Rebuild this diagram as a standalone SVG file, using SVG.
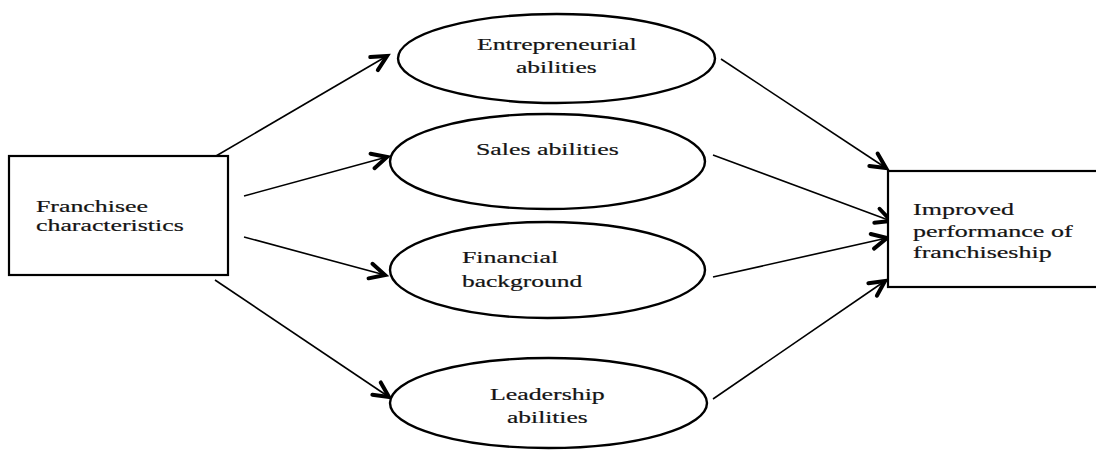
<svg xmlns="http://www.w3.org/2000/svg" width="1096" height="452" viewBox="0 0 1096 452">
  <style>
    .box { fill: #fff; stroke: #000; stroke-width: 2.2; }
    .oval { fill: #fff; stroke: #000; stroke-width: 2.4; }
    .lbl { font-family: "Liberation Serif", "Times New Roman", serif; font-size: 17px; fill: #141414; stroke: #141414; stroke-width: 0.2; }
    .link { stroke: #000; stroke-width: 1.6; fill: none; marker-end: url(#chev); }
  </style>
  <defs>
    <marker id="chev" markerUnits="userSpaceOnUse" markerWidth="30" markerHeight="30" viewBox="-20 -15 30 30" refX="0" refY="0" orient="auto">
      <path d="M-15,-7.5 L0,0 L-15,7.5" fill="none" stroke="#000" stroke-width="4" stroke-linecap="round" stroke-linejoin="miter"/>
    </marker>
  </defs>
  <rect width="1096" height="452" fill="#fff"/>

  <g id="connectors">
    <line class="link" x1="216" y1="156" x2="387" y2="56"/>
    <line class="link" x1="244" y1="196" x2="387" y2="157"/>
    <line class="link" x1="244" y1="237" x2="385" y2="275"/>
    <line class="link" x1="215" y1="280" x2="389" y2="397"/>
    <line class="link" x1="721" y1="59" x2="886" y2="168"/>
    <line class="link" x1="713" y1="155" x2="891" y2="221"/>
    <line class="link" x1="713" y1="277" x2="887" y2="238"/>
    <line class="link" x1="713" y1="399" x2="885" y2="281"/>
  </g>

  <!-- labels are set in a wide face: each line is scaled horizontally -->
  <g id="franchisee">
    <rect class="box" x="9" y="156" width="219" height="119"/>
    <text class="lbl" transform="translate(36 212) scale(1.52 1)">Franchisee</text>
    <text class="lbl" transform="translate(36 231) scale(1.52 1)">characteristics</text>
  </g>

  <g id="entrepreneurial">
    <ellipse class="oval" cx="556.5" cy="58.5" rx="158.5" ry="44.5"/>
    <text class="lbl" transform="translate(477 50) scale(1.51 1)">Entrepreneurial</text>
    <text class="lbl" transform="translate(516 72.5) scale(1.5 1)">abilities</text>
  </g>

  <g id="sales">
    <ellipse class="oval" cx="547.5" cy="161.5" rx="157.5" ry="47.5"/>
    <text class="lbl" transform="translate(476 155) scale(1.52 1)">Sales abilities</text>
  </g>

  <g id="financial">
    <ellipse class="oval" cx="547.5" cy="270" rx="157.5" ry="48"/>
    <text class="lbl" transform="translate(462 263) scale(1.52 1)">Financial</text>
    <text class="lbl" transform="translate(462 287) scale(1.5 1)">background</text>
  </g>

  <g id="leadership">
    <ellipse class="oval" cx="548.5" cy="403" rx="158.5" ry="45"/>
    <text class="lbl" transform="translate(490 400) scale(1.52 1)">Leadership</text>
    <text class="lbl" transform="translate(507 423) scale(1.5 1)">abilities</text>
  </g>

  <g id="performance">
    <rect class="box" x="888" y="171" width="212" height="116"/>
    <text class="lbl" transform="translate(913 215) scale(1.53 1)">Improved</text>
    <text class="lbl" transform="translate(913 237) scale(1.53 1)">performance of</text>
    <text class="lbl" transform="translate(913 258) scale(1.53 1)">franchiseship</text>
  </g>
</svg>
